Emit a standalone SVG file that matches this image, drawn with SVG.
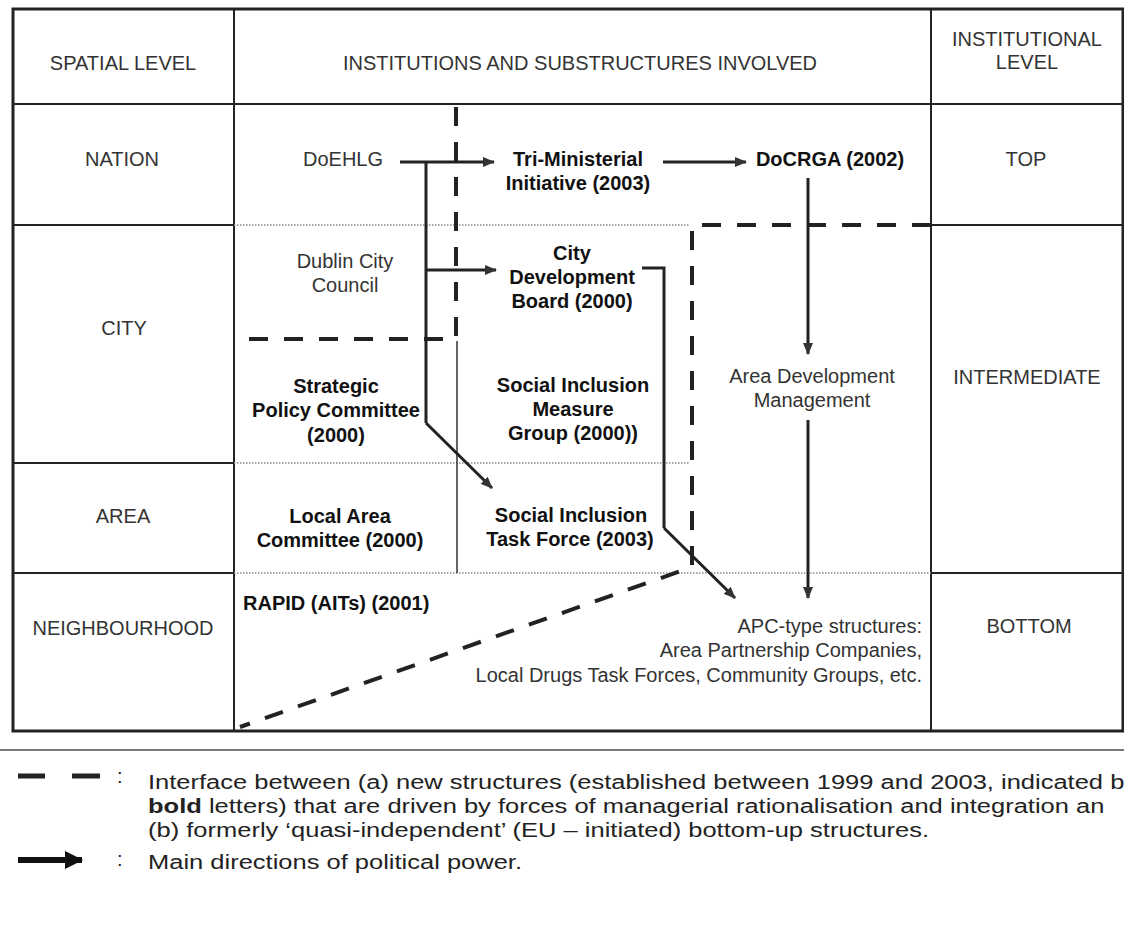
<svg xmlns="http://www.w3.org/2000/svg" width="1124" height="930" viewBox="0 0 1124 930">
  <style>
    .reg { font-family: "Liberation Sans", Arial, sans-serif; font-size: 20px; fill: #333; text-anchor: middle; }
    .bold { font-family: "Liberation Sans", Arial, sans-serif; font-size: 20px; font-weight: bold; fill: #111; text-anchor: middle; }
    .grid { stroke: #222; stroke-width: 2; fill: none; }
    .outer { stroke: #222; stroke-width: 3; fill: none; }
    .dot { stroke: #8a8a8a; stroke-width: 1.5; stroke-dasharray: 1.5 1.5; fill: none; }
    .thin { stroke: #333; stroke-width: 1.5; fill: none; }
    .dash { stroke: #222; stroke-width: 4; stroke-dasharray: 19 16; fill: none; }
    .arrow { stroke: #222; stroke-width: 3; fill: none; marker-end: url(#ah); }
    .line { stroke: #222; stroke-width: 3; fill: none; }
    .leg { font-family: "Liberation Sans", Arial, sans-serif; font-size: 20px; fill: #222; }
  </style>
  <defs>
    <marker id="ah" viewBox="0 0 12 10" refX="11" refY="5" markerWidth="12" markerHeight="10" markerUnits="userSpaceOnUse" orient="auto">
      <path d="M0,0 L12,5 L0,10 z" fill="#333"/>
    </marker>
    <marker id="ahbig" viewBox="0 0 18 18" refX="17" refY="9" markerWidth="18" markerHeight="18" markerUnits="userSpaceOnUse" orient="auto">
      <path d="M0,0 L18,9 L0,18 z" fill="#111"/>
    </marker>
  </defs>
  <rect width="1124" height="930" fill="#fff"/>

  <g id="table">
    <rect class="outer" x="13" y="9" width="1110" height="722"/>
    <line class="grid" x1="234" y1="9" x2="234" y2="731"/>
    <line class="grid" x1="931" y1="9" x2="931" y2="731"/>
    <line class="grid" x1="13" y1="104" x2="1123" y2="104"/>
    <line class="grid" x1="13" y1="225" x2="234" y2="225"/>
    <line class="grid" x1="931" y1="225" x2="1123" y2="225"/>
    <line class="grid" x1="13" y1="463" x2="234" y2="463"/>
    <line class="grid" x1="13" y1="573" x2="234" y2="573"/>
    <line class="grid" x1="931" y1="573" x2="1123" y2="573"/>
    <line class="dot" x1="234" y1="225" x2="690" y2="225"/>
    <line class="dot" x1="234" y1="463" x2="690" y2="463"/>
    <line class="dot" x1="234" y1="573" x2="931" y2="573"/>
    <line class="thin" x1="457" y1="341" x2="457" y2="573"/>
    <line x1="0" y1="750" x2="1124" y2="750" stroke="#777" stroke-width="2"/>
  </g>

  <g id="headers">
    <text class="reg" x="123" y="70">SPATIAL LEVEL</text>
    <text class="reg" x="580" y="70">INSTITUTIONS AND SUBSTRUCTURES INVOLVED</text>
    <text class="reg" x="1027" y="46">INSTITUTIONAL</text>
    <text class="reg" x="1027" y="69">LEVEL</text>
  </g>

  <g id="spatial-levels">
    <text class="reg" x="122" y="166">NATION</text>
    <text class="reg" x="124" y="335">CITY</text>
    <text class="reg" x="123" y="523">AREA</text>
    <text class="reg" x="123" y="635">NEIGHBOURHOOD</text>
  </g>

  <g id="institutional-levels">
    <text class="reg" x="1026" y="166">TOP</text>
    <text class="reg" x="1027" y="384">INTERMEDIATE</text>
    <text class="reg" x="1029" y="633">BOTTOM</text>
  </g>

  <g id="node-doehlg"><text class="reg" x="343" y="166">DoEHLG</text></g>
  <g id="node-tri-ministerial">
    <text class="bold" x="578" y="166">Tri-Ministerial</text>
    <text class="bold" x="578" y="190">Initiative (2003)</text>
  </g>
  <g id="node-docrga"><text class="bold" x="830" y="166">DoCRGA (2002)</text></g>
  <g id="node-dublin-city-council">
    <text class="reg" x="345" y="268">Dublin City</text>
    <text class="reg" x="345" y="292">Council</text>
  </g>
  <g id="node-city-development-board">
    <text class="bold" x="572" y="260">City</text>
    <text class="bold" x="572" y="284">Development</text>
    <text class="bold" x="572" y="308">Board (2000)</text>
  </g>
  <g id="node-strategic-policy-committee">
    <text class="bold" x="336" y="393">Strategic</text>
    <text class="bold" x="336" y="417">Policy Committee</text>
    <text class="bold" x="336" y="442">(2000)</text>
  </g>
  <g id="node-social-inclusion-measure-group">
    <text class="bold" x="573" y="392">Social Inclusion</text>
    <text class="bold" x="573" y="416">Measure</text>
    <text class="bold" x="573" y="440">Group (2000))</text>
  </g>
  <g id="node-area-development-management">
    <text class="reg" x="812" y="383">Area Development</text>
    <text class="reg" x="812" y="407">Management</text>
  </g>
  <g id="node-local-area-committee">
    <text class="bold" x="340" y="523">Local Area</text>
    <text class="bold" x="340" y="547">Committee (2000)</text>
  </g>
  <g id="node-social-inclusion-task-force">
    <text class="bold" x="571" y="522">Social Inclusion</text>
    <text class="bold" x="570" y="546">Task Force (2003)</text>
  </g>
  <g id="node-rapid">
    <text class="bold" x="243" y="610" style="text-anchor:start">RAPID (AITs) (2001)</text>
  </g>
  <g id="node-apc">
    <text class="reg" x="922" y="633" style="text-anchor:end">APC-type structures:</text>
    <text class="reg" x="922" y="657" style="text-anchor:end">Area Partnership Companies,</text>
    <text class="reg" x="922" y="682" style="text-anchor:end">Local Drugs Task Forces, Community Groups, etc.</text>
  </g>

  <g id="connectors">
    <path class="dash" d="M456,104 V339 H234" stroke-dashoffset="-3"/>
    <path class="dash" d="M931,225 H692 V567 L240,727"/>
    <path class="arrow" d="M400,162 H494"/>
    <path class="line" d="M426,162 V423"/>
    <path class="arrow" d="M426,423 L492,488"/>
    <path class="arrow" d="M426,270 H496"/>
    <path class="arrow" d="M663,162 H746"/>
    <path class="arrow" d="M808,178 V354"/>
    <path class="arrow" d="M808,420 V598"/>
    <path class="line" d="M642,268 H664 V528"/>
    <path class="arrow" d="M664,528 L735,598"/>
  </g>

  <g id="legend">
    <line x1="18" y1="776" x2="45" y2="776" stroke="#222" stroke-width="5"/>
    <line x1="72" y1="776" x2="100" y2="776" stroke="#222" stroke-width="5"/>
    <text class="leg" x="117" y="783">:</text>
    <g transform="translate(148,0) scale(1.275,1)">
      <text class="leg" x="0" y="789">Interface between (a) new structures (established between 1999 and 2003, indicated b</text>
      <text class="leg" x="0" y="813"><tspan font-weight="bold">bold</tspan> letters) that are driven by forces of managerial rationalisation and integration an</text>
      <text class="leg" x="0" y="837">(b) formerly ‘quasi-independent’ (EU – initiated) bottom-up structures.</text>
      <text class="leg" x="0" y="869">Main directions of political power.</text>
    </g>
    <line x1="18" y1="860" x2="82" y2="860" stroke="#111" stroke-width="6" marker-end="url(#ahbig)"/>
    <text class="leg" x="117" y="866">:</text>
  </g>
</svg>
